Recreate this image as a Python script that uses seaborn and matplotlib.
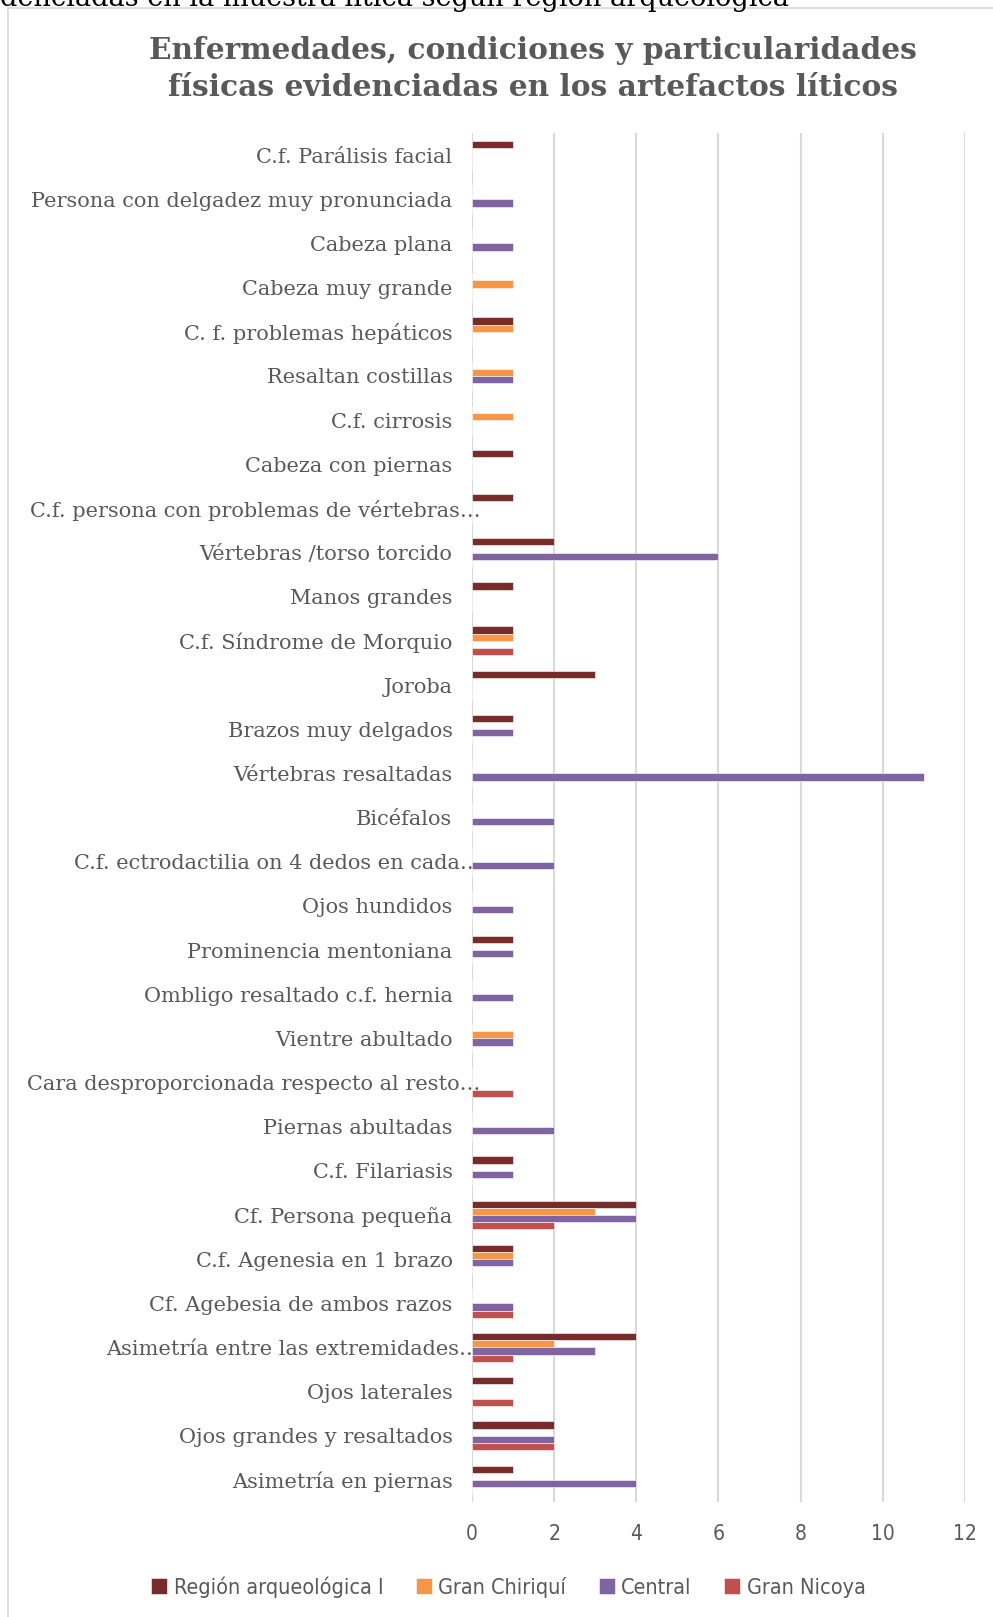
import matplotlib
matplotlib.use("Agg")
import matplotlib.pyplot as plt
import matplotlib.transforms as mtransforms
import seaborn as sns
import pandas as pd

# Categories, top to bottom
categorias = [
    "C.f. Parálisis facial",
    "Persona con delgadez muy pronunciada",
    "Cabeza plana",
    "Cabeza muy grande",
    "C. f. problemas hepáticos",
    "Resaltan costillas",
    "C.f. cirrosis",
    "Cabeza con piernas",
    "C.f. persona con problemas de vértebras…",
    "Vértebras /torso torcido",
    "Manos grandes",
    "C.f. Síndrome de Morquio",
    "Joroba",
    "Brazos muy delgados",
    "Vértebras resaltadas",
    "Bicéfalos",
    "C.f. ectrodactilia on 4 dedos en cada…",
    "Ojos hundidos",
    "Prominencia mentoniana",
    "Ombligo resaltado c.f. hernia",
    "Vientre abultado",
    "Cara desproporcionada respecto al resto…",
    "Piernas abultadas",
    "C.f. Filariasis",
    "Cf. Persona pequeña",
    "C.f. Agenesia en 1 brazo",
    "Cf. Agebesia de ambos razos",
    "Asimetría entre las extremidades…",
    "Ojos laterales",
    "Ojos grandes y resaltados",
    "Asimetría en piernas",
]

series = ["Región arqueológica I", "Gran Chiriquí", "Central", "Gran Nicoya"]

region_i = [1, 0, 0, 0, 1, 0, 0, 1, 1, 2, 1, 1, 3, 1, 0, 0, 0, 0, 1, 0, 0, 0, 0, 1, 4, 1, 0, 4, 1, 2, 1]
gran_chiriqui = [0, 0, 0, 1, 1, 1, 1, 0, 0, 0, 0, 1, 0, 0, 0, 0, 0, 0, 0, 0, 1, 0, 0, 0, 3, 1, 0, 2, 0, 0, 0]
central = [0, 1, 1, 0, 0, 1, 0, 0, 0, 6, 0, 0, 0, 1, 11, 2, 2, 1, 1, 1, 1, 0, 2, 1, 4, 1, 1, 3, 0, 2, 4]
gran_nicoya = [0, 0, 0, 0, 0, 0, 0, 0, 0, 0, 0, 1, 0, 0, 0, 0, 0, 0, 0, 0, 0, 1, 0, 0, 2, 0, 1, 1, 1, 2, 0]

colores = ["#772C2A", "#F79646", "#8064A2", "#C0504D"]

titulo = "Enfermedades, condiciones y particularidades\nfísicas evidenciadas en los artefactos líticos"
encabezado = "denciadas en la muestra lítica según región arqueológica"
ticks_x = [0, 2, 4, 6, 8, 10, 12]

df = pd.DataFrame({
    "categoria": categorias * 4,
    "serie": [s for s in series for _ in categorias],
    "valor": region_i + gran_chiriqui + central + gran_nicoya,
})

sns.set_theme(style="white")
plt.rcParams["font.family"] = ["DejaVu Serif"]

sans_narrow = dict(fontfamily=["DejaVu Sans"], fontstretch="condensed")

fig = plt.figure(figsize=(9.93, 16.17), dpi=100)
ax = fig.add_axes([0.4753, 0.0711, 0.4965, 0.8466])

sns.barplot(
    data=df, y="categoria", x="valor", hue="serie",
    order=categorias, hue_order=series, palette=colores, saturation=1,
    orient="h", width=0.654, dodge=True, ax=ax,
    edgecolor="white", linewidth=0.4, legend=True,
)

ax.set_xlim(0, 12)
ax.set_xticks(ticks_x)
ax.set_xticklabels([str(t) for t in ticks_x], fontsize=15, color="#595959",
                   **sans_narrow)
ax.tick_params(axis="x", length=0, pad=16)
ax.tick_params(axis="y", length=0, pad=14)

# Truncated labels (ending in an ellipsis) run a little further right
shift = mtransforms.ScaledTranslation(20 / 72, 0, fig.dpi_scale_trans)
for lbl in ax.get_yticklabels():
    lbl.set_fontsize(15)
    lbl.set_color("#595959")
    lbl.set_fontfamily("DejaVu Serif")
    if lbl.get_text().endswith("…"):
        lbl.set_transform(lbl.get_transform() + shift)
ax.set_xlabel("")
ax.set_ylabel("")
ax.grid(axis="x", color="#D9D9D9", linewidth=1.5)
ax.grid(axis="y", visible=False)
ax.set_axisbelow(True)
for sp in ax.spines.values():
    sp.set_visible(False)

handles, labels = ax.get_legend_handles_labels()
ax.legend_.remove()
fig.legend(handles, labels, loc="center", bbox_to_anchor=(0.512, 1 - 1587 / 1617),
           ncol=4, frameon=False, handlelength=0.75, handleheight=0.75,
           handletextpad=0.3, columnspacing=1.5,
           prop={"family": ["DejaVu Sans"], "stretch": "condensed", "size": 15.5},
           labelcolor="#595959")

fig.text(0.537, 1 - 69 / 1617, titulo, ha="center", va="center",
         fontsize=21.3, fontweight="bold", color="#595959", linespacing=1.32,
         fontfamily="DejaVu Serif")

# Caption line above the chart frame, cut by the top edge
fig.text(0.0, 1 + 2 / 1617, encabezado, ha="left", va="center",
         fontsize=19.5, color="black", fontfamily="DejaVu Serif")

# Chart frame: left and top edges
fig.add_artist(plt.Line2D([8 / 993, 8 / 993], [0, 1 - 8 / 1617],
                          transform=fig.transFigure, color="#D9D9D9", linewidth=1.2))
fig.add_artist(plt.Line2D([8 / 993, 1], [1 - 8 / 1617, 1 - 8 / 1617],
                          transform=fig.transFigure, color="#D9D9D9", linewidth=1.2))

fig.savefig("out.png", dpi=100)
